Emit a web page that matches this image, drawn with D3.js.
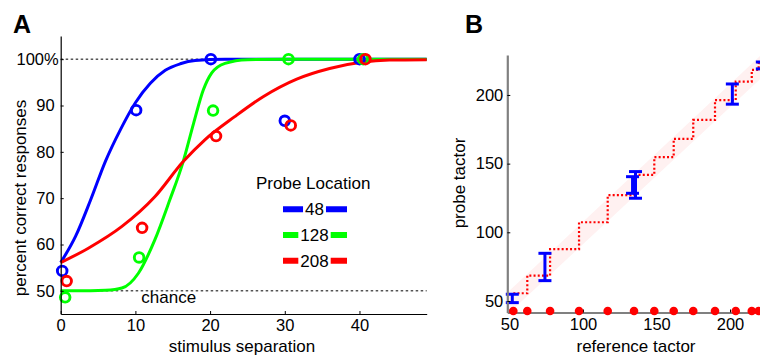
<!DOCTYPE html>
<html>
<head>
<meta charset="utf-8">
<script src="https://cdn.jsdelivr.net/npm/d3@7"></script>
<style>
  body { margin: 0; background: #fff; }
  svg { display: block; font-family: "Liberation Sans", Arial, sans-serif; }
</style>
</head>
<body>
<div id="chart"></div>
<script>
/* ---- panel A: percent correct vs stimulus separation ------------------- */
const sepTicks = [0, 10, 20, 30, 40];
const pctTicks = [50, 60, 70, 80, 90, 100];
const probeNames = ["48", "128", "208"];
const probeColors = ["#0000ff", "#00ff00", "#ff0000"];

// measured points (separation, % correct)
const obsX48  = [0.2, 10.1, 20.1, 30.0, 40.0];
const obsY48  = [54.3, 89.0, 100, 86.7, 100];
const obsX128 = [0.6, 10.5, 20.4, 30.5, 40.5];
const obsY128 = [48.6, 57.2, 88.9, 100, 100];
const obsX208 = [0.8, 10.9, 20.8, 30.8, 40.8];
const obsY208 = [52.1, 63.6, 83.4, 85.7, 100];

// fitted curves
const fitX48  = [0, 2, 4, 6, 8, 10, 12, 14, 16, 18, 22, 30, 49];
const fitY48  = [56.1, 61.8, 69.6, 78, 84.8, 90.6, 94.8, 97.6, 99.0, 99.7, 99.97, 100, 100];
const fitX128 = [0, 4, 6, 8.2, 10.4, 12.6, 14.6, 16.4, 17.8, 19.1, 20.2, 22, 25, 30, 49];
const fitY128 = [50, 50, 50.1, 50.6, 53.8, 61, 69.6, 77.9, 86.2, 93.4, 97, 99.1, 99.9, 100, 100];
const fitX208 = [0, 3.7, 8.2, 12.6, 16.4, 19.3, 23.3, 27.1, 31.6, 36, 40.5, 44, 49];
const fitY208 = [56.1, 59.2, 63.9, 70.3, 77.9, 82.6, 87.6, 91.9, 95.7, 98, 99.4, 99.8, 99.9];

const chanceLevel = 50, ceilingLevel = 100;

/* ---- panel B: probe tactor vs reference tactor ------------------------- */
const refTicks = [50, 100, 150, 200];
const probeTicks = [50, 100, 150, 200];
const refTactors = [52.6, 62.1, 77.6, 97.3, 116.8, 134.7, 148.5, 161.7, 175, 189.8, 203.9, 214.8, 219.5, 232];
const stairLevels = [55.6, 68.4, 87.7, 107.3, 127, 141.8, 154.7, 168, 181.8, 196.2, 209.7, 218.2, 223.1, 223.1];
const refRowLevel = 42.7;
const bandX  = [48.5, 232];
const bandLo = [40, 223];
const bandHi = [56, 240];
const barX  = [51.9, 74.1, 133.7, 135.7, 201.6, 222];
const barLo = [48.8, 64.8, 128.4, 124.8, 193.3, 219];
const barHi = [54.9, 84.7, 140.5, 144.2, 208, 224];

/* ---- svg --------------------------------------------------------------- */
const W = 760, H = 358;
const svg = d3.select("#chart").append("svg").attr("width", W).attr("height", H);

/* ======================= panel A ======================= */
const xA = d3.scaleLinear().domain([0, 49]).range([60.7, 426.7]);
const yA = d3.scaleLinear().domain([45, 105]).range([314, 36]);
const gA = svg.append("g");

// dotted reference lines
[ceilingLevel, chanceLevel].forEach(v => {
  gA.append("line")
    .attr("x1", xA(0)).attr("x2", xA(49))
    .attr("y1", yA(v)).attr("y2", yA(v))
    .attr("stroke", "#000").attr("stroke-width", 1)
    .attr("stroke-dasharray", "2.5,2.5");
});

gA.append("text").attr("x", xA(10.8)).attr("y", 303)
  .attr("font-size", 17).text("chance");

// fitted curves
const lineA = d3.line().x(d => xA(d[0])).y(d => yA(d[1])).curve(d3.curveMonotoneX);
const fits = [[fitX48, fitY48], [fitX128, fitY128], [fitX208, fitY208]];
fits.forEach(([fx, fy], i) => {
  gA.append("path")
    .datum(d3.zip(fx, fy))
    .attr("d", lineA)
    .attr("fill", "none")
    .attr("stroke", probeColors[i])
    .attr("stroke-width", 3);
});

// observed points
const obs = [[obsX48, obsY48], [obsX128, obsY128], [obsX208, obsY208]];
obs.forEach(([ox, oy], i) => {
  gA.append("g").selectAll("circle")
    .data(d3.zip(ox, oy))
    .join("circle")
      .attr("cx", d => xA(d[0]))
      .attr("cy", d => yA(d[1]))
      .attr("r", 4.8)
      .attr("fill", "none")
      .attr("stroke", probeColors[i])
      .attr("stroke-width", 2.9);
});

// axes
const axA_x = gA.append("g").attr("transform", `translate(0,314)`)
  .call(d3.axisBottom(xA).tickValues(sepTicks).tickSizeInner(-3).tickSizeOuter(0).tickPadding(5));
const axA_y = gA.append("g").attr("transform", `translate(60.7,0)`)
  .call(d3.axisLeft(yA).tickValues(pctTicks).tickSizeInner(-3).tickSizeOuter(0).tickPadding(6)
    .tickFormat(d => d === 100 ? "100%" : d));
[axA_x, axA_y].forEach(ax => {
  ax.select(".domain").attr("stroke", "#000").attr("stroke-width", 1.2);
  ax.selectAll(".tick line").attr("stroke", "#000");
  ax.selectAll(".tick text").attr("font-size", 16.5).attr("fill", "#000")
    .attr("font-family", "Liberation Sans, Arial, sans-serif");
});
axA_y.selectAll(".tick text").filter(d => d === 100).attr("dx", 4);

gA.append("text").attr("transform", "translate(26,198) rotate(-90)")
  .attr("text-anchor", "middle").attr("font-size", 17).text("percent correct responses");
gA.append("text").attr("x", 242).attr("y", 352)
  .attr("text-anchor", "middle").attr("font-size", 17).text("stimulus separation");
gA.append("text").attr("x", 13).attr("y", 33)
  .attr("font-size", 25).attr("font-weight", "bold").text("A");

// legend
const leg = gA.append("g");
leg.append("text").attr("x", 256).attr("y", 189).attr("font-size", 17).text("Probe Location");
probeNames.forEach((name, i) => {
  const cy = 209.3 + i * 25.7;
  leg.append("line").attr("x1", 283).attr("x2", 347).attr("y1", cy).attr("y2", cy)
    .attr("stroke", probeColors[i]).attr("stroke-width", 6);
  const t = leg.append("text").attr("x", 314.5).attr("y", cy + 5.8)
    .attr("text-anchor", "middle").attr("font-size", 17).text(name);
  const bb = t.node().getBBox();
  leg.insert("rect", () => t.node())
    .attr("x", bb.x - 2).attr("y", cy - 4).attr("width", bb.width + 4).attr("height", 8)
    .attr("fill", "#fff");
});

/* ======================= panel B ======================= */
const xB = d3.scaleLinear().domain([48.5, 230]).range([507.3, 774.1]);
const yB = d3.scaleLinear().domain([41.6, 229.1]).range([312.5, 55]);
const gB = svg.append("g");

// shaded band around identity
gB.append("path")
  .datum(d3.zip(bandX, bandLo, bandHi))
  .attr("d", d3.area().x(d => xB(d[0])).y0(d => yB(d[1])).y1(d => yB(d[2])))
  .attr("fill", "#fff1f1");

// staircase
gB.append("path")
  .datum(d3.zip(refTactors, stairLevels))
  .attr("d", d3.line().x(d => xB(d[0])).y(d => yB(d[1])).curve(d3.curveStepAfter))
  .attr("fill", "none").attr("stroke", "#ff0000").attr("stroke-width", 2.2)
  .attr("stroke-dasharray", "2,2.2");

// error bars
const bars = d3.zip(barX, barLo, barHi);
const eb = gB.append("g").attr("stroke", "#0000ff").attr("stroke-width", 3);
eb.selectAll("line.v").data(bars).join("line").attr("class", "v")
  .attr("x1", d => xB(d[0])).attr("x2", d => xB(d[0]))
  .attr("y1", d => yB(d[1])).attr("y2", d => yB(d[2]));
eb.selectAll("line.lo").data(bars).join("line").attr("class", "lo")
  .attr("x1", d => xB(d[0]) - 6.5).attr("x2", d => xB(d[0]) + 6.5)
  .attr("y1", d => yB(d[1])).attr("y2", d => yB(d[1]));
eb.selectAll("line.hi").data(bars).join("line").attr("class", "hi")
  .attr("x1", d => xB(d[0]) - 6.5).attr("x2", d => xB(d[0]) + 6.5)
  .attr("y1", d => yB(d[2])).attr("y2", d => yB(d[2]));

// axes
const axB_x = gB.append("g").attr("transform", `translate(0,312.5)`)
  .call(d3.axisBottom(xB).tickValues(refTicks).tickSizeInner(-3).tickSizeOuter(0).tickPadding(6));
const axB_y = gB.append("g").attr("transform", `translate(507.3,0)`)
  .call(d3.axisLeft(yB).tickValues(probeTicks).tickSizeInner(-3).tickSizeOuter(0).tickPadding(4));
[axB_x, axB_y].forEach(ax => {
  ax.select(".domain").attr("stroke", "#808080").attr("stroke-width", 2.2);
  ax.selectAll(".tick line").attr("stroke", "#000");
  ax.selectAll(".tick text").attr("font-size", 16.5).attr("fill", "#000")
    .attr("font-family", "Liberation Sans, Arial, sans-serif");
});

// reference tactor positions along the bottom
gB.append("g").selectAll("circle")
  .data(refTactors.slice(0, -1))
  .join("circle")
    .attr("cx", d => xB(d))
    .attr("cy", yB(refRowLevel))
    .attr("r", 4.3)
    .attr("fill", "#ff0000");

gB.append("text").attr("transform", "translate(465,183) rotate(-90)")
  .attr("text-anchor", "middle").attr("font-size", 17).text("probe tactor");
gB.append("text").attr("x", 636).attr("y", 352)
  .attr("text-anchor", "middle").attr("font-size", 17).text("reference tactor");
gB.append("text").attr("x", 465).attr("y", 33)
  .attr("font-size", 25).attr("font-weight", "bold").text("B");
</script>
</body>
</html>
